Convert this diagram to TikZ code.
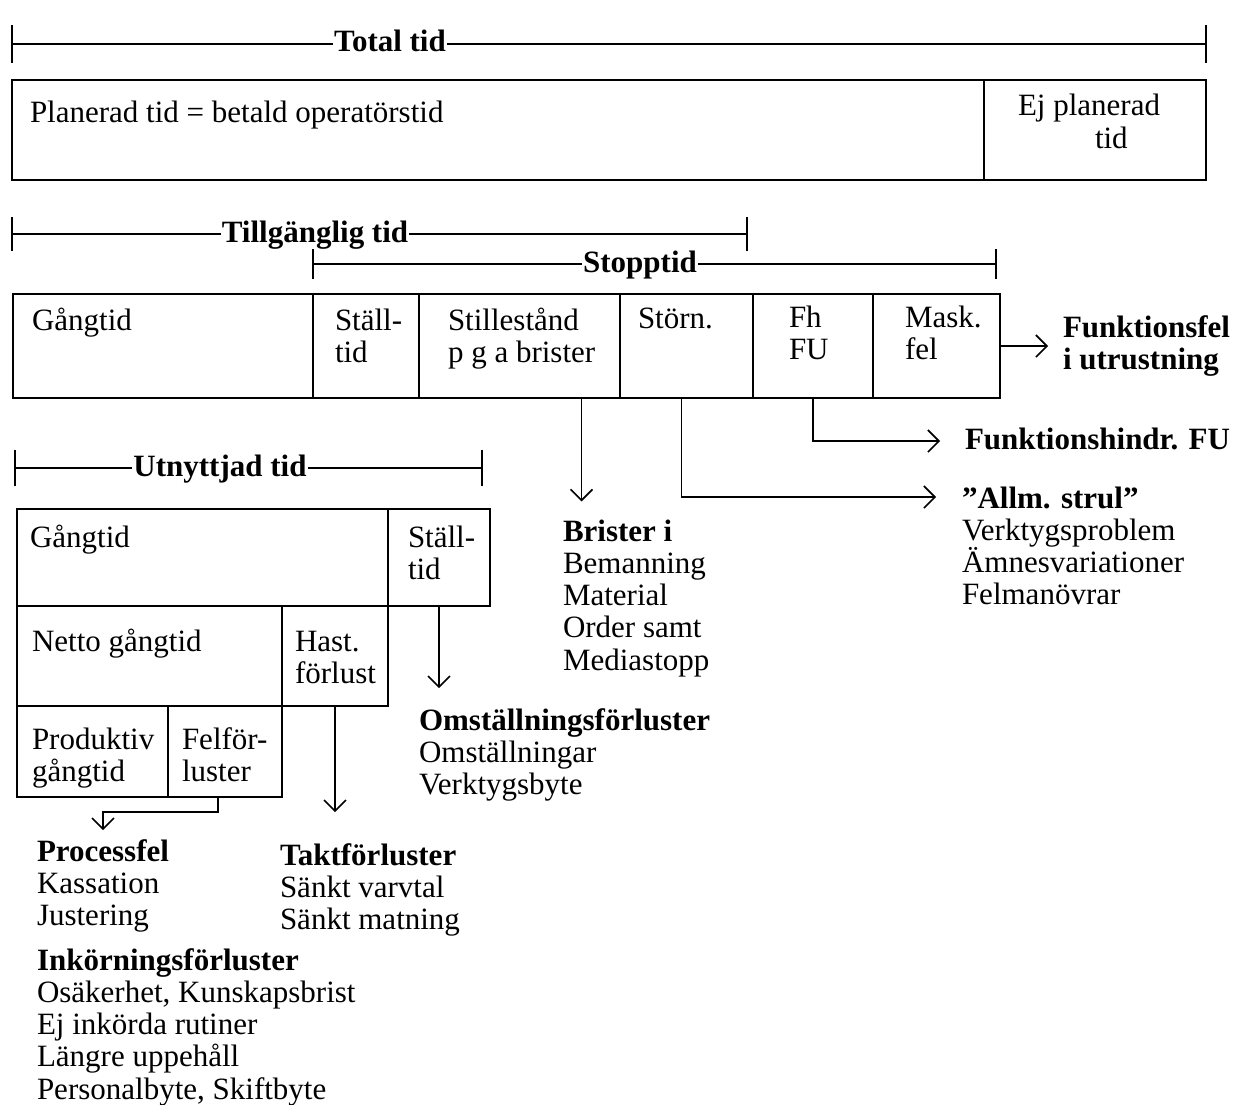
\documentclass[tikz,border=0pt]{standalone}
\usepackage{fontspec}
\setmainfont{Liberation Serif}
\usetikzlibrary{arrows.meta,calc}
\newcommand\fs{\fontsize{31}{32.3}\selectfont}
\newcommand\ml[1]{\vtop{\baselineskip=32.3pt\lineskiplimit=-20pt\lineskip=0pt\halign{##\hfil\cr#1\crcr}}}
\newcommand\spanbar[8]{%
 \coordinate (#1L) at (#2,#4);
 \coordinate (#1R) at (#3,#4);
 \node[spanlbl] (#1T) at (#5,#6) {#7};
 \draw[bar] (#1L) -- (#1L -| #1T.west);
 \draw[bar] (#1T.east |- #1R) -- (#1R);
 \draw[bar] ($(#1L)+(0,-#8)$) -- ($(#1L)+(0,#8)$);
 \draw[bar] ($(#1R)+(0,-#8)$) -- ($(#1R)+(0,#8)$);
}
\tikzset{
 cell/.style={draw, line width=1.7pt, inner sep=0pt, outer sep=0pt, anchor=north west},
 txt/.style={font=\fs, inner sep=0pt, outer sep=0pt, anchor=base west},
 hdr/.style={font=\fs\bfseries, inner sep=0pt, outer sep=0pt, anchor=base west},
 spanlbl/.style={font=\fs\bfseries, inner xsep=1pt, inner ysep=0pt, anchor=base},
 bar/.style={line width=1.7pt},
 arr/.style={line width=1.6pt, -{Straight Barb[length=11pt,width=22pt,line width=1.6pt]}}
}
\begin{document}
\begin{tikzpicture}[x=1pt,y=-1pt]
\useasboundingbox (0,0) rectangle (1242,1105);
\fill[white] (0,0) rectangle (1242,1105);

% span bars
\spanbar{tot}{12}{1206}{44}{390}{52}{Total tid}{19}
\spanbar{till}{12}{747}{234}{315}{242}{Tillgänglig tid}{17}
\spanbar{stop}{313}{996}{264}{640}{272}{Stopptid}{15}
\spanbar{utn}{15}{482}{468}{220}{476}{Utnyttjad tid}{18}

% row 1
\node[cell, minimum width=972pt, minimum height=100pt] (plan) at (12,80) {};
\node[cell, minimum width=222pt, minimum height=100pt] (ejpl) at (984,80) {};
\node[txt] (planT) at (30,123) {Planerad tid = betald operatörstid};
\node[txt] (ejplT) at (1018,116) {\ml{Ej planerad\cr\hskip77pt tid}};

% row 2
\node[cell, minimum width=300pt, minimum height=104pt] (gang2) at (13,294) {};
\node[cell, minimum width=106pt, minimum height=104pt] (stall2) at (313,294) {};
\node[cell, minimum width=201pt, minimum height=104pt] (still) at (419,294) {};
\node[cell, minimum width=133pt, minimum height=104pt] (storn) at (620,294) {};
\node[cell, minimum width=120pt, minimum height=104pt] (fhfu) at (753,294) {};
\node[cell, minimum width=127pt, minimum height=104pt] (mask) at (873,294) {};
\node[txt] (gang2T) at (32,330) {Gångtid};
\node[txt] (stall2T) at (335,330) {\ml{Ställ-\cr tid}};
\node[txt] (stillT) at (448,330) {\ml{Stillestånd\cr p g a brister}};
\node[txt] (stornT) at (638,328) {Störn.};
\node[txt] (fhfuT) at (789,327) {\ml{Fh\cr FU}};
\node[txt] (maskT) at (905,327) {\ml{Mask.\cr fel}};

% right side labels
\node[hdr] (funkfel) at (1063,337) {\ml{Funktionsfel\cr i utrustning}};
\node[hdr] (funkhindr) at (965,449) {Funktionshindr. FU};
\node[txt] (allm) at (962,508) {\ml{{\bfseries ”Allm. strul”}\cr Verktygsproblem\cr Ämnesvariationer\cr Felmanövrar}};
\node[txt] (brister) at (563,541) {\ml{{\bfseries Brister i}\cr Bemanning\cr Material\cr Order samt\cr Mediastopp}};

% block 3
\node[cell, minimum width=371pt, minimum height=97pt] (gang3) at (17,509) {};
\node[cell, minimum width=102pt, minimum height=97pt] (stall3) at (388,509) {};
\node[cell, minimum width=265pt, minimum height=100pt] (netto) at (17,606) {};
\node[cell, minimum width=106pt, minimum height=100pt] (hast) at (282,606) {};
\node[cell, minimum width=151pt, minimum height=91pt] (prod) at (17,706) {};
\node[cell, minimum width=114pt, minimum height=91pt] (felf) at (168,706) {};
\node[txt] (gang3T) at (30,547) {Gångtid};
\node[txt] (stall3T) at (408,547) {\ml{Ställ-\cr tid}};
\node[txt] (nettoT) at (32,651) {Netto gångtid};
\node[txt] (hastT) at (295,651) {\ml{Hast.\cr förlust}};
\node[txt] (prodT) at (32,749) {\ml{Produktiv\cr gångtid}};
\node[txt] (felfT) at (182,749) {\ml{Felför-\cr luster}};

% lower labels
\node[txt] (omst) at (419,730) {\ml{{\bfseries Omställningsförluster}\cr Omställningar\cr Verktygsbyte}};
\node[txt] (takt) at (280,865) {\ml{{\bfseries Taktförluster}\cr Sänkt varvtal\cr Sänkt matning}};
\node[txt] (proc) at (37,861) {\ml{{\bfseries Processfel}\cr Kassation\cr Justering}};
\node[txt] (inko) at (37,970) {\ml{{\bfseries Inkörningsförluster}\cr Osäkerhet, Kunskapsbrist\cr Ej inkörda rutiner\cr Längre uppehåll\cr Personalbyte, Skiftbyte}};

% connectors
\draw[arr, shorten >=15pt] (mask.east) -- (mask.east -| funkfel.west);
\draw[arr, shorten >=25pt] (fhfu.south) |- ([yshift=8pt]funkhindr.base west);
\draw[arr, shorten >=26pt] ([xshift=-5pt]storn.south) |- ([yshift=11pt]allm.base west);
\coordinate (bx) at ([xshift=62pt]still.south);
\draw[arr, shorten >=18pt] (bx) -- (bx |- brister.north);
\draw[arr, shorten >=20pt] (stall3.south) -- (stall3.south |- omst.north);
\draw[arr, shorten >=31pt] (hast.south) -- (hast.south |- takt.north);
\coordinate (fx) at ([xshift=-7pt]felf.south);
\coordinate (fmid) at ($(fx)+(0,15)$);
\coordinate (px) at ([xshift=66pt]proc.north west);
\draw[arr, shorten >=9pt] (fx) -- (fmid) -| (px);
\end{tikzpicture}
\end{document}
